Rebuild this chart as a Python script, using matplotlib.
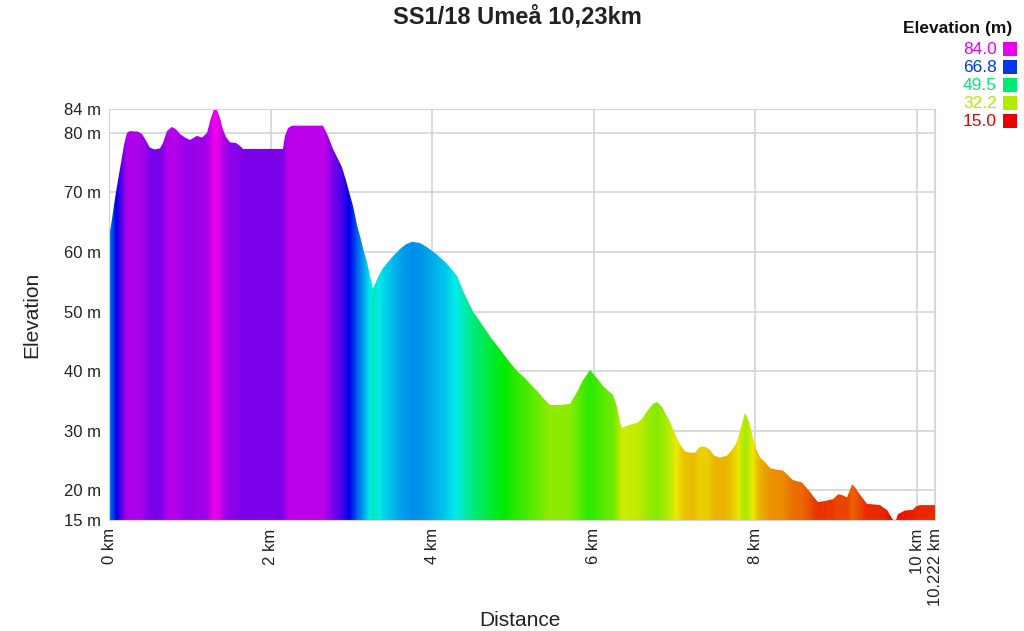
import numpy as np
import matplotlib
matplotlib.use("Agg")
import matplotlib.pyplot as plt
from matplotlib.colors import ListedColormap, Normalize, hsv_to_rgb
from matplotlib.patches import Rectangle

plt.rcParams['font.family'] = ['Liberation Sans', 'DejaVu Sans']

title = "SS1/18 Umeå 10,23km"

# distance along the stage (km) and elevation (m)
distance_km = [
    0.000, 0.037, 0.074, 0.111, 0.149, 0.186, 0.223, 0.260, 0.359, 0.408,
    0.458, 0.507, 0.569, 0.631, 0.668, 0.718, 0.780, 0.829, 0.879, 0.941,
    1.002, 1.052, 1.089, 1.151, 1.213, 1.262, 1.300, 1.337, 1.374, 1.411,
    1.448, 1.498, 1.572, 1.621, 1.658, 2.153, 2.178, 2.215, 2.265, 2.649,
    2.710, 2.772, 2.834, 2.884, 2.933, 2.983, 3.020, 3.069, 3.106, 3.156,
    3.193, 3.230, 3.267, 3.329, 3.391, 3.453, 3.515, 3.601, 3.676, 3.750,
    3.849, 3.936, 4.035, 4.121, 4.183, 4.245, 4.307, 4.381, 4.443, 4.505,
    4.592, 4.715, 4.802, 4.901, 4.988, 5.050, 5.149, 5.235, 5.297, 5.371,
    5.458, 5.582, 5.705, 5.792, 5.866, 5.953, 6.027, 6.114, 6.176, 6.238,
    6.287, 6.324, 6.349, 6.448, 6.535, 6.597, 6.671, 6.733, 6.782, 6.844,
    6.894, 6.943, 7.005, 7.067, 7.129, 7.191, 7.252, 7.314, 7.376, 7.438,
    7.488, 7.562, 7.649, 7.710, 7.760, 7.809, 7.871, 7.921, 7.970, 8.007,
    8.057, 8.119, 8.181, 8.243, 8.342, 8.403, 8.465, 8.577, 8.626, 8.676,
    8.725, 8.775, 8.861, 8.960, 9.022, 9.072, 9.134, 9.196, 9.233, 9.270,
    9.319, 9.381, 9.480, 9.542, 9.592, 9.629, 9.666, 9.703, 9.740, 9.765,
    9.851, 9.950, 9.988, 10.037, 10.222,
]
elevation_m = [
    62.5, 65.5, 69.0, 72.0, 75.0, 78.0, 80.0, 80.3, 80.2, 79.8,
    78.7, 77.5, 77.2, 77.4, 78.3, 80.3, 81.0, 80.6, 79.8, 79.2,
    78.8, 79.2, 79.5, 79.2, 80.0, 82.5, 84.0, 83.8, 82.5, 80.5,
    79.3, 78.4, 78.3, 77.8, 77.3, 77.3, 79.5, 80.8, 81.2, 81.2,
    79.5, 77.3, 75.6, 74.2, 72.0, 69.5, 67.7, 64.5, 62.7, 60.0,
    58.3, 56.0, 53.8, 55.8, 57.3, 58.3, 59.3, 60.5, 61.3, 61.7,
    61.5, 60.8, 59.8, 58.8, 58.0, 57.0, 56.0, 53.5, 51.7, 50.0,
    48.3, 45.8, 44.3, 42.5, 41.0, 40.0, 38.8, 37.5, 36.7, 35.5,
    34.3, 34.3, 34.5, 36.5, 38.5, 40.2, 39.0, 37.5, 36.7, 36.0,
    34.0, 31.5, 30.5, 31.0, 31.3, 32.0, 33.5, 34.5, 34.8, 34.0,
    32.7, 31.5, 29.5, 27.7, 26.5, 26.3, 26.3, 27.3, 27.3, 26.8,
    25.8, 25.5, 25.8, 26.8, 27.8, 30.0, 33.0, 31.5, 28.8, 27.0,
    25.5, 24.7, 23.7, 23.5, 23.3, 22.5, 21.7, 21.3, 20.5, 19.7,
    18.8, 18.0, 18.2, 18.5, 19.3, 19.2, 18.8, 21.0, 20.5, 19.7,
    18.8, 17.7, 17.6, 17.5, 17.0, 16.7, 15.8, 15.0, 15.0, 16.0,
    16.6, 16.7, 17.3, 17.5, 17.5,
]

x_ticks = [0, 2, 4, 6, 8, 10, 10.222]
x_tick_labels = ["0 km", "2 km", "4 km", "6 km", "8 km", "10 km", "10.222 km"]
y_ticks = [15, 20, 30, 40, 50, 60, 70, 80, 84]
y_tick_labels = ["15 m", "20 m", "30 m", "40 m", "50 m", "60 m", "70 m", "80 m", "84 m"]
legend_levels = [84.0, 66.8, 49.5, 32.2, 15.0]

# hue runs red (low) -> yellow -> green -> cyan -> blue -> magenta (high)
hues = np.linspace(0, 300 / 360, 256)
hsv = np.stack([hues, np.ones_like(hues), np.full_like(hues, 0.92)], axis=1)
cmap = ListedColormap(hsv_to_rgb(hsv))
elev_min, elev_max = 15.0, 84.0
norm = Normalize(elev_min, elev_max)

fig = plt.figure(figsize=(10.24, 6.31), dpi=100)
ax = fig.add_axes([109 / 1024, 1 - 520 / 631, 826 / 1024, 411 / 631])

dist = np.array(distance_km)
elev = np.array(elevation_m)

# colour each vertical strip by the elevation there, clipped to the profile
xs = np.linspace(dist[0], dist[-1], 2000)
strip = np.interp(xs, dist, elev)[np.newaxis, :]
img = ax.imshow(strip, cmap=cmap, norm=norm, aspect='auto',
                extent=[dist[0], dist[-1], elev_min, elev_max],
                origin='lower', interpolation='nearest', zorder=2)
poly = ax.fill_between(dist, elev, elev_min, facecolor='none', edgecolor='none', zorder=2)
clip = poly.get_paths()[0]
img.set_clip_path(clip, transform=ax.transData)

ax.set_xlim(0, 10.222)
ax.set_ylim(elev_min, elev_max)
ax.set_xticks(x_ticks)
ax.set_xticklabels(x_tick_labels, rotation=90, fontsize=12)
ax.set_yticks(y_ticks)
ax.set_yticklabels(y_tick_labels, fontsize=12)
ax.tick_params(length=0, pad=6, colors='#222222')
ax.grid(True, color='#d4d4d4', linewidth=1.2, zorder=0)
ax.set_axisbelow(True)
for s in ax.spines.values():
    s.set_color('#d4d4d4')

fig.text(32 / 1024, 1 - 315 / 631, "Elevation", rotation=90, fontsize=15,
         ha='center', va='center', color='#222222')
fig.text(520 / 1024, 1 - 620 / 631, "Distance", fontsize=15,
         ha='center', va='center', color='#222222')
fig.text(517 / 1024, 1 - 17 / 631, title, fontsize=17, fontweight='bold',
         ha='center', va='center', color='#222222')

# colour key in the top right corner
fig.text(1012 / 1024, 1 - 28 / 631, "Elevation (m)", fontsize=12.5,
         fontweight='bold', ha='right', va='center', color='#111111')
for i, lvl in enumerate(legend_levels):
    yc = 49 + i * 18
    col = cmap(norm(lvl))
    fig.text(997 / 1024, 1 - yc / 631, f"{lvl:.1f}", fontsize=12.5,
             ha='right', va='center', color=col)
    fig.patches.append(Rectangle((1003 / 1024, 1 - (yc + 7) / 631), 14 / 1024, 14 / 631,
                                 transform=fig.transFigure, facecolor=col,
                                 edgecolor='none'))

fig.savefig("out.png", dpi=100, facecolor='white')
